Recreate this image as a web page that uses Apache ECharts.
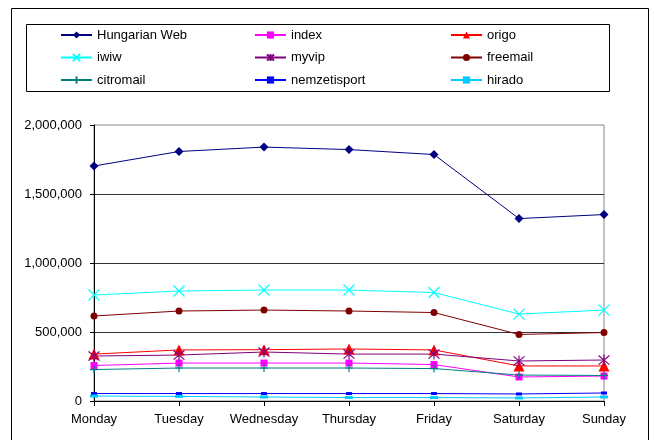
<!DOCTYPE html>
<html>
<head>
<meta charset="utf-8">
<script src="https://cdn.jsdelivr.net/npm/echarts@6/dist/echarts.min.js"></script>
<style>
html,body{margin:0;padding:0;background:#fff;}
#chart{width:654px;height:440px;}
</style>
</head>
<body>
<div id="chart"></div>
<script>
const days = ['Monday','Tuesday','Wednesday','Thursday','Friday','Saturday','Sunday'];
const hungarianWeb = [1703000,1808000,1840000,1822000,1786000,1322000,1351000];
const indexSite    = [257000,275000,275000,275000,264000,174000,181000];
const origo        = [340000,370000,372000,377000,370000,254000,254000];
const iwiw         = [768000,797000,804000,804000,786000,630000,659000];
const myvip        = [326000,333000,355000,340000,340000,290000,297000];
const freemail     = [616000,652000,659000,652000,641000,482000,496000];
const citromail    = [228000,239000,239000,239000,235000,188000,185000];
const nemzetisport = [54000,54000,54000,54000,54000,51000,58000];
const hirado       = [36000,33000,29000,25000,25000,22000,29000];
const yTicks = [0,500000,1000000,1500000,2000000];

const FONT = "'Liberation Sans', Arial, sans-serif";

function mk(name, data, color, symbol, size, stroke) {
  return {
    name: name, type: 'line', data: data,
    symbol: symbol, symbolSize: size,
    animation: false,
    lineStyle: {color: color, width: 1},
    itemStyle: stroke ? {color: color, borderColor: color, borderWidth: 1.2}
                      : {color: color, borderWidth: 0},
    emphasis: {disabled: true}
  };
}

const X_PATH = 'path://M0,0L10,10M10,0L0,10';
const STAR_PATH = 'path://M0,0L10,10M10,0L0,10M5,-1L5,11';
const PLUS_PATH = 'path://M5,0L5,10M1.5,5L8.5,5';

const series = [
  mk('Hungarian Web', hungarianWeb, '#000080', 'diamond', 9, false),
  mk('index', indexSite, '#FF00FF', 'rect', 7, false),
  mk('origo', origo, '#FF0000', 'triangle', 11, false),
  mk('iwiw', iwiw, '#00FFFF', X_PATH, 11, true),
  mk('myvip', myvip, '#800080', STAR_PATH, 11, true),
  mk('freemail', freemail, '#800000', 'circle', 7, false),
  mk('citromail', citromail, '#008080', PLUS_PATH, 8, true),
  mk('nemzetisport', nemzetisport, '#0000FF', 'rect', [6,3], false),
  mk('hirado', hirado, '#00CCFF', 'rect', [8,3], false)
];

function legend(names, left) {
  return {
    data: names, orient: 'vertical', left: left, top: 28.5, padding: 0,
    itemWidth: 31, itemHeight: 9, itemGap: 9.5,
    textStyle: {fontFamily: FONT, fontSize: 13, color: '#000'},
    selectedMode: false
  };
}

const chart = echarts.init(document.getElementById('chart'), null, {renderer: 'canvas'});
chart.setOption({
  backgroundColor: '#fff',
  animation: false,
  graphic: [
    {type: 'rect', shape: {x: 11.5, y: 8.5, width: 637, height: 440}, style: {fill: 'none', stroke: '#000', lineWidth: 1}, silent: true, z: -1},
    {type: 'rect', shape: {x: 26.5, y: 24.5, width: 583, height: 67}, style: {fill: 'none', stroke: '#000', lineWidth: 1}, silent: true, z: -1}
  ],
  legend: [
    legend(['Hungarian Web','iwiw','citromail'], 60),
    legend(['index','myvip','nemzetisport'], 254),
    legend(['origo','freemail','hirado'], 450)
  ],
  grid: {left: 94, right: 50, top: 125, bottom: 39, show: true, borderColor: '#888', borderWidth: 1, containLabel: false},
  xAxis: {
    type: 'category', data: days, boundaryGap: false,
    axisLine: {lineStyle: {color: '#000', width: 1}},
    axisTick: {show: true, length: 5, alignWithLabel: true, lineStyle: {color: '#000'}},
    axisLabel: {fontFamily: FONT, fontSize: 13, color: '#000', margin: 12, interval: 0},
    splitLine: {show: false}
  },
  yAxis: {
    type: 'value', min: yTicks[0], max: yTicks[yTicks.length-1], interval: 500000,
    axisLine: {show: true, lineStyle: {color: '#000', width: 1}},
    axisTick: {show: true, length: 4, lineStyle: {color: '#000'}},
    axisLabel: {fontFamily: FONT, fontSize: 13, color: '#000', margin: 12,
      formatter: function (v) { return v.toLocaleString('en-US'); }},
    splitLine: {show: true, showMaxLine: false, lineStyle: {color: '#333', width: 1}}
  },
  series: series
});
</script>
</body>
</html>
